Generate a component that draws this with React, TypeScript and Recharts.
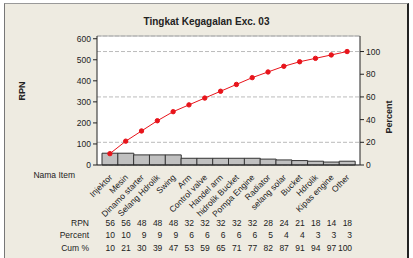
import { ComposedChart, Bar, Line, XAxis, YAxis, CartesianGrid, ReferenceLine } from 'recharts';

const items = [
  'Injektor', 'Mesin', 'Dinamo starter', 'Selang Hdrolik', 'Swing', 'Arm', 'Control valve', 'Handel arm',
  'hidrolik Bucket', 'Pompa Engine', 'Radiator', 'selang solar', 'Bucket', 'Hdrolik', 'Kipas engine', 'Other',
];
const rpn = [56, 56, 48, 48, 48, 32, 32, 32, 32, 32, 28, 24, 21, 18, 14, 18];
const percent = [10, 10, 9, 9, 9, 6, 6, 6, 6, 6, 5, 4, 4, 3, 3, 3];
const cumPercent = [10, 21, 30, 39, 47, 53, 59, 65, 71, 77, 82, 87, 91, 94, 97, 100];

const leftTicks = [0, 100, 200, 300, 400, 500, 600];
const rightTicks = [0, 20, 40, 60, 80, 100];

const FONT = '"Liberation Sans", Arial, sans-serif';
const TXT = '#222';

const data = items.map((name, i) => ({ name, rpn: rpn[i], cum: cumPercent[i] }));

const ItemTick = (props: any) => {
  const { x, y, payload } = props;
  const i = payload.index;
  const rows = [rpn[i], percent[i], cumPercent[i]];
  return (
    <g fontFamily={FONT} fontSize={8.5} fill={TXT}>
      <text x={x + 3} y={y + 5} textAnchor="end" transform={`rotate(-45 ${x + 3} ${y + 5})`} fill={TXT}>
        {payload.value}
      </text>
      {rows.map((v, r) => (
        <text key={r} x={x + 5} y={y + 53 + r * 12.3} textAnchor="end" fill={TXT}>{v}</text>
      ))}
      {i === 0 && (
        <>
          <text x={75} y={178} textAnchor="end" fill={TXT}>Nama Item</text>
          {['RPN', 'Percent', 'Cum %'].map((l, r) => (
            <text key={l} x={89} y={y + 53 + r * 12.3} textAnchor="end" fill={TXT}>{l}</text>
          ))}
        </>
      )}
    </g>
  );
};

export default function App() {
  return (
    <div style={{ position: 'absolute', left: 0, top: 0, width: 413, height: 258, background: '#fff' }}>
      <div
        style={{
          position: 'absolute', left: 4, top: 3, width: 402, height: 262, background: '#EEEBE1',
          borderLeft: '1px solid #777', borderTop: '1px solid #999', borderRight: '2px solid #222',
        }}
      />
      <div
        style={{
          position: 'absolute', left: 0, top: 16, width: 413, textAlign: 'center', fontFamily: FONT,
          fontWeight: 'bold', fontSize: 10, color: TXT, lineHeight: '12px',
        }}
      >
        Tingkat Kegagalan Exc. 03
      </div>
      <div style={{ position: 'absolute', left: 0, top: 0 }}>
        <ComposedChart width={413} height={258} data={data} margin={{ top: 36, right: 13, bottom: 13, left: 10 }} barCategoryGap={0}>
          <CartesianGrid yAxisId="right" vertical={false} fill="#fff" fillOpacity={1} stroke="#bbb" strokeDasharray="4 2" />
          <ReferenceLine yAxisId="left" y={613} stroke="#aaa" />
          <XAxis
            dataKey="name"
            interval={0}
            padding={{ left: 5, right: 5 }}
            height={80}
            tickLine={false}
            axisLine={{ stroke: '#222' }}
            tick={<ItemTick />}
          />
          <YAxis
            yAxisId="left"
            domain={[0, 613]}
            ticks={leftTicks}
            width={87}
            tickSize={4}
            tickLine={{ stroke: '#222' }}
            axisLine={{ stroke: '#222' }}
            tick={{ fontSize: 8.5, fill: TXT, fontFamily: FONT }}
            label={{ value: 'RPN', angle: -90, position: 'insideLeft', offset: 12, style: { fontSize: 9, fontWeight: 'bold', fill: TXT, fontFamily: FONT } }}
          />
          <YAxis
            yAxisId="right"
            orientation="right"
            domain={[0, 113.7]}
            ticks={rightTicks}
            width={40}
            tickSize={4}
            tickLine={{ stroke: '#222' }}
            axisLine={{ stroke: '#222' }}
            tick={{ fontSize: 8.5, fill: TXT, fontFamily: FONT }}
            label={{ value: 'Percent', angle: -90, position: 'insideRight', offset: 11, style: { fontSize: 9, fontWeight: 'bold', fill: TXT, fontFamily: FONT } }}
          />
          <Bar yAxisId="left" dataKey="rpn" fill="#C0C0C0" stroke="#333" strokeWidth={1} isAnimationActive={false} />
          <Line
            yAxisId="right"
            dataKey="cum"
            stroke="#E8141B"
            strokeWidth={1}
            dot={{ r: 2.2, fill: '#E8141B', stroke: '#E8141B' }}
            isAnimationActive={false}
          />
        </ComposedChart>
      </div>
    </div>
  );
}
